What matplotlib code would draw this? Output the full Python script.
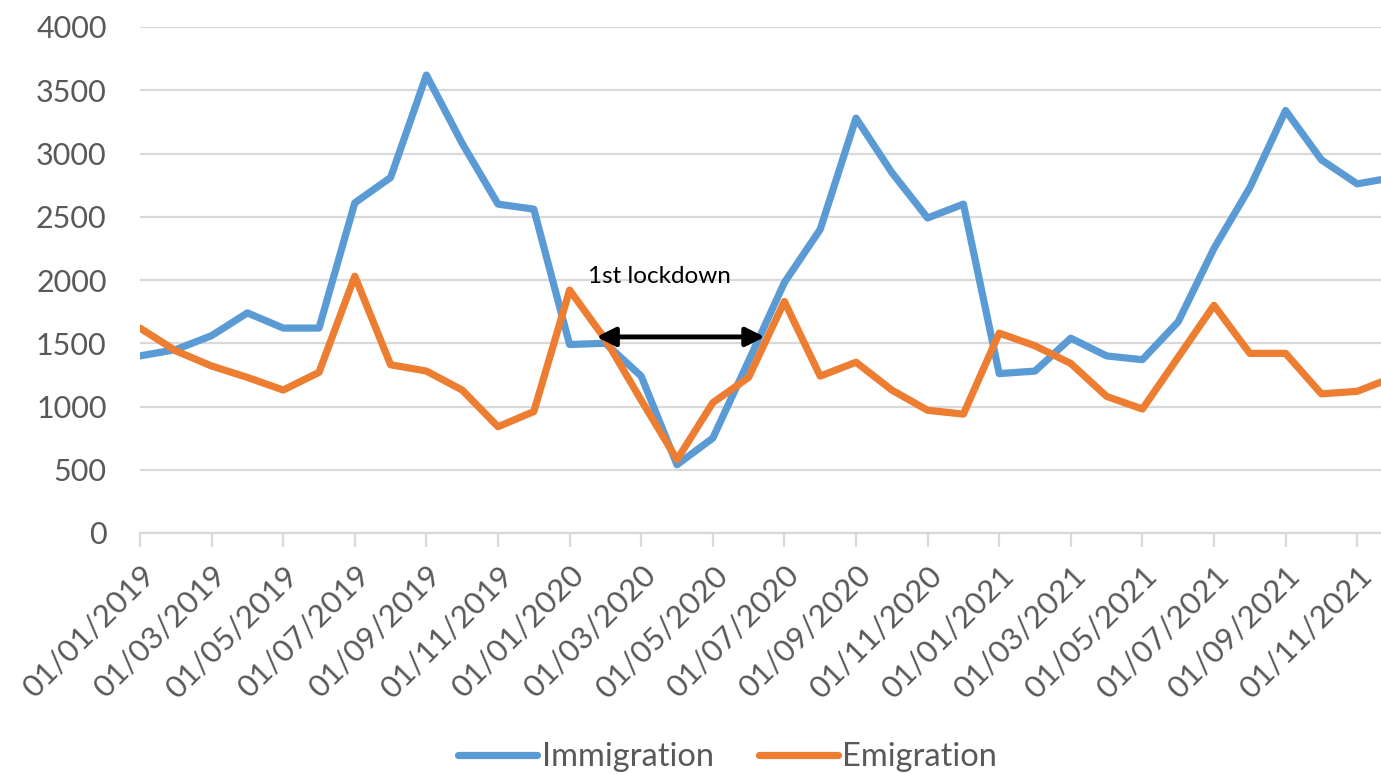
import matplotlib
matplotlib.use("Agg")
import matplotlib.pyplot as plt

months = [f"01/{m:02d}/{y}" for y in (2019, 2020, 2021) for m in range(1, 13)]
immigration = [1400, 1450, 1560, 1740, 1620, 1620, 2610, 2810, 3620, 3080, 2600, 2560,
               1490, 1500, 1240, 540, 750, 1360, 1980, 2400, 3280, 2850, 2490, 2600,
               1260, 1280, 1540, 1400, 1370, 1670, 2250, 2730, 3340, 2950, 2760, 2810]
emigration = [1620, 1440, 1320, 1230, 1130, 1270, 2030, 1330, 1280, 1130, 840, 960,
              1920, 1530, 1050, 580, 1030, 1230, 1830, 1240, 1350, 1130, 970, 940,
              1580, 1480, 1340, 1080, 980, 1390, 1800, 1420, 1420, 1100, 1120, 1230]
yticks = [0, 500, 1000, 1500, 2000, 2500, 3000, 3500, 4000]

plt.rcParams['font.family'] = ['Lato', 'DejaVu Sans']

fig = plt.figure(figsize=(13.81, 7.74), dpi=100)
ax = fig.add_axes([140/1381, 1-533/774, 1-140/1381, (533-27)/774])

x = list(range(len(months)))
ax.plot(x, immigration, color='#5B9BD5', lw=5.2, label='Immigration', solid_joinstyle='round', solid_capstyle='round')
ax.plot(x, emigration, color='#ED7D31', lw=5.2, label='Emigration', solid_joinstyle='round', solid_capstyle='round')

ax.set_ylim(0, 4000)
ax.set_xlim(0, (1381-140)/35.8)
ax.set_yticks(yticks)
ax.set_yticklabels([str(v) for v in yticks])
ax.yaxis.grid(True, color='#D9D9D9', lw=1.6)
ax.set_axisbelow(True)
for s in ['top', 'right', 'left']:
    ax.spines[s].set_visible(False)
ax.spines['bottom'].set_color('#D9D9D9')
ax.spines['bottom'].set_linewidth(1.6)
ax.tick_params(axis='y', length=0, labelsize=22, labelcolor='#595959', pad=24)
ax.set_xticks(x[::2])
ax.set_xticklabels(months[::2], rotation=45, ha='right', rotation_mode='anchor')
ax.tick_params(axis='x', length=10, width=1.6, color='#D9D9D9', labelsize=22.5,
               labelcolor='#595959', pad=10)

ax.annotate('', xy=(12.75, 1550), xytext=(17.45, 1550),
            arrowprops=dict(arrowstyle='<|-|>', color='black', lw=3.5, mutation_scale=28,
                            shrinkA=0, shrinkB=0))
ax.text(14.5, 2030, '1st lockdown', fontsize=17.5, color='black', ha='center', va='center')

fig.legend(loc='center', bbox_to_anchor=(0.527, 0.022), ncol=2, frameon=False,
           fontsize=23.5, labelcolor='#595959', handlelength=2.4, columnspacing=1.4,
           handletextpad=0.15)

fig.savefig('out.png', dpi=100)
